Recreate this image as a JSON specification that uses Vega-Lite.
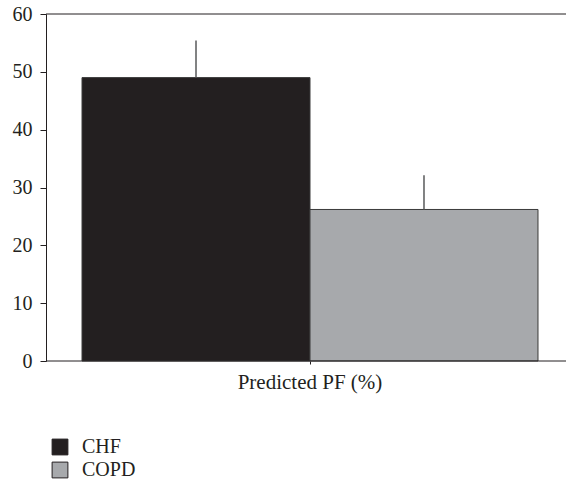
{
  "$schema": "https://vega.github.io/schema/vega-lite/v6.json",
  "autosize": {"type": "none"},
  "width": 520,
  "height": 347,
  "padding": {"left": 46, "top": 14, "right": 0, "bottom": 121},
  "background": "white",
  "config": {
    "font": "Liberation Serif",
    "view": {"stroke": null}
  },
  "data": {
    "values": [
      {"measure": "Predicted PF (%)", "group": "CHF", "value": 49.0, "upper": 55.4},
      {"measure": "Predicted PF (%)", "group": "COPD", "value": 26.2, "upper": 32.1}
    ]
  },
  "encoding": {
    "x": {
      "field": "measure",
      "type": "nominal",
      "scale": {"paddingInner": 0, "paddingOuter": 0.0702, "range": [4, 524]},
      "axis": {
        "title": null,
        "domain": false,
        "labelAngle": 0,
        "labelFontSize": 21,
        "labelColor": "#231f20",
        "labelPadding": 7,
        "tickColor": "#231f20",
        "tickSize": 3
      }
    },
    "xOffset": {"field": "group", "type": "nominal", "scale": {"paddingInner": 0, "paddingOuter": 0}}
  },
  "layer": [
    {
      "mark": {"type": "bar", "stroke": "#3a3a3a", "strokeWidth": 1},
      "encoding": {
        "y": {
          "field": "value",
          "type": "quantitative",
          "scale": {"domain": [0, 60], "nice": false},
          "axis": {
            "title": null,
            "values": [0, 5, 10, 15, 20, 25, 30, 35, 40, 45, 50, 55, 60],
            "labelExpr": "datum.value % 10 === 0 ? datum.label : ''",
            "tickSize": {"condition": {"test": "datum.value % 10 === 0", "value": 6}, "value": 3},
            "grid": false,
            "labelFontSize": 20,
            "labelColor": "#231f20",
            "labelPadding": 8,
            "domainColor": "#231f20",
            "tickColor": "#231f20"
          }
        },
        "color": {
          "field": "group",
          "type": "nominal",
          "scale": {"domain": ["CHF", "COPD"], "range": ["#231f20", "#a7a9ac"]},
          "legend": {
            "title": null,
            "orient": "none",
            "legendX": 4,
            "legendY": 423,
            "symbolType": "square",
            "symbolSize": 250,
            "symbolStrokeColor": "#231f20",
            "symbolStrokeWidth": 1,
            "symbolOpacity": 1,
            "labelFontSize": 20,
            "labelColor": "#231f20",
            "labelOffset": 12,
            "rowPadding": 3
          }
        }
      }
    },
    {
      "mark": {"type": "rule", "color": "#58595b", "strokeWidth": 1.5},
      "encoding": {
        "y": {"field": "value", "type": "quantitative"},
        "y2": {"field": "upper"}
      }
    },
    {
      "data": {"values": [{"line": 60}, {"line": 0}]},
      "mark": {"type": "rule", "color": "#231f20", "strokeWidth": 1},
      "encoding": {
        "y": {"field": "line", "type": "quantitative"},
        "x": {"value": 0},
        "x2": {"value": 520},
        "xOffset": null
      }
    }
  ]
}
